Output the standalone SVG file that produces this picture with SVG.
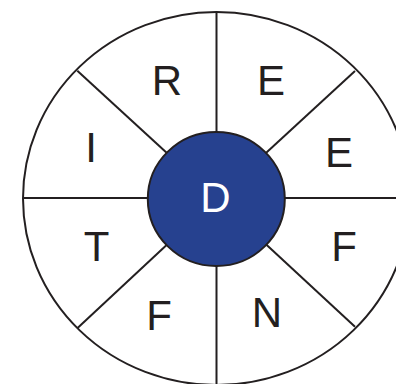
<svg xmlns="http://www.w3.org/2000/svg" width="396" height="384" viewBox="0 0 396 384">
<style>
.ln{stroke:#231f20;stroke-width:2;fill:none}
.t{font-family:"Liberation Sans",Arial,sans-serif;font-size:42px;fill:#231f20;text-anchor:middle}
.c{fill:#ffffff}
</style>
<rect width="396" height="384" fill="#ffffff"/>
<g id="outer"><ellipse class="ln" cx="216.5" cy="198.5" rx="193.5" ry="186.5" fill="#fff"/></g>
<g id="connectors">
<line class="ln" x1="216.5" y1="12" x2="216.5" y2="386"/>
<line class="ln" x1="23" y1="198" x2="396" y2="198"/>
<line class="ln" x1="216.5" y1="198.5" x2="77.3" y2="70.7"/>
<line class="ln" x1="216.5" y1="198.5" x2="355" y2="71"/>
<line class="ln" x1="216.5" y1="198.5" x2="77.3" y2="328.3"/>
<line class="ln" x1="216.5" y1="198.5" x2="355" y2="326.7"/>
</g>
<g id="center"><ellipse cx="216.3" cy="199" rx="68.5" ry="67" fill="#26418f" stroke="#231f20" stroke-width="2"/><text class="t c" x="215.5" y="212">D</text></g>
<g id="n-R"><text class="t" x="167" y="95">R</text></g>
<g id="n-E1"><text class="t" x="271" y="94.5">E</text></g>
<g id="n-I"><text class="t" x="91" y="162">I</text></g>
<g id="n-E2"><text class="t" x="339" y="167">E</text></g>
<g id="n-T"><text class="t" x="96.5" y="261">T</text></g>
<g id="n-F1"><text class="t" x="344" y="261">F</text></g>
<g id="n-F2"><text class="t" x="159" y="330">F</text></g>
<g id="n-N"><text class="t" x="267" y="327">N</text></g>
</svg>
